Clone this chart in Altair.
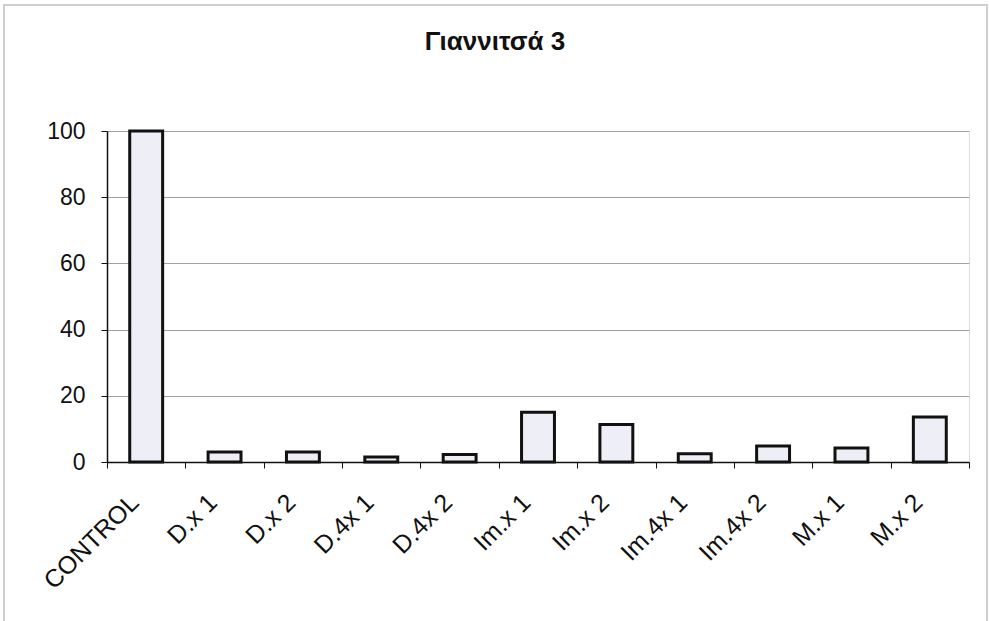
import altair as alt
import pandas as pd

# Sample groups and their relative values (% of control)
categories = ["CONTROL", "D.x 1", "D.x 2", "D.4x 1", "D.4x 2", "Im.x 1",
              "Im.x 2", "Im.4x 1", "Im.4x 2", "M.x 1", "M.x 2"]
values = [100, 3, 3, 1.5, 2.3, 15, 11.3, 2.5, 4.8, 4.2, 13.6]
y_ticks = [0, 20, 40, 60, 80, 100]

df = pd.DataFrame({"group": categories, "value": values})

FONT = "Liberation Sans"

bars = alt.Chart(df).mark_bar(
    fill="#eeeef6", stroke="#111111", strokeWidth=3,
    width=alt.RelativeBandSize(0.42),
).encode(
    x=alt.X(
        "group:N", sort=categories, title=None,
        scale=alt.Scale(paddingInner=0, paddingOuter=0),
        axis=alt.Axis(
            labelAngle=-45, labelAlign="right", labelBaseline="middle",
            labelPadding=30, labelOffset=-12, labelFontSize=25,
            labelFont=FONT, labelColor="#111111",
            tickBand="extent", tickSize=6, tickColor="#111111",
            domainColor="#111111", domainWidth=1.5, grid=False,
        ),
    ),
    y=alt.Y(
        "value:Q", title=None,
        scale=alt.Scale(domain=[0, 100], nice=False),
        axis=alt.Axis(
            values=y_ticks, labelFontSize=23, labelFont=FONT,
            labelColor="#111111", labelPadding=16, tickSize=6,
            tickColor="#111111", domainColor="#111111", domainWidth=1.5,
            gridColor="#a0a0a0", gridWidth=1,
        ),
    ),
)

# Light outer frame around the whole figure
frame = alt.Chart(pd.DataFrame({"k": [0]})).mark_rect(
    fill=None, stroke="#cfcfcf", strokeWidth=2
).encode(
    x=alt.value(-103), x2=alt.value(880),
    y=alt.value(-126), y2=alt.value(520),
)

chart = alt.layer(frame, bars).properties(
    width=862,
    height=331,
    title=alt.TitleParams(
        "Γιαννιτσά 3", font=FONT, fontSize=26, fontWeight="bold",
        color="#111111", anchor="middle", dx=-43, offset=-51,
    ),
    autosize=alt.AutoSizeParams(type="none"),
    padding={"left": 107, "top": 131, "right": 20, "bottom": 159},
).configure_view(
    stroke="#a0a0a0", strokeWidth=1
).configure(background="white")

chart.save("out.html", embed_options={"renderer": "svg", "actions": False})
